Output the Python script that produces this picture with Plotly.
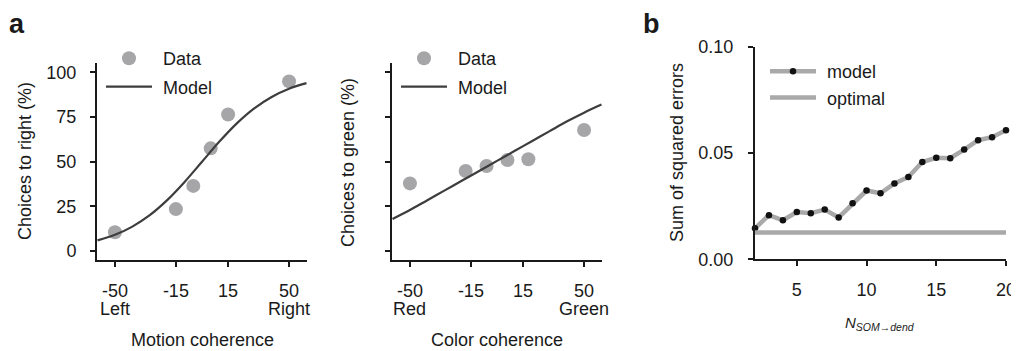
import plotly.graph_objects as go

# ---------------- data ----------------
motion_coh = [-50, -15, -5, 5, 15, 50]
motion_data = [10.5, 23.5, 36.5, 57.5, 76.5, 95.0]
color_coh = [-50, -18, -6, 6, 18, 50]
color_data = [37.9, 44.8, 47.6, 51.0, 51.4, 67.8]

model_x = [-60, -50, -40, -30, -20, -10, 0, 10, 20, 30, 40, 50, 60]
motion_model = [6.0, 9.1, 13.7, 20.1, 28.5, 38.7, 50.0, 61.3, 71.5, 79.9, 86.3, 90.9, 94.0]
color_model = [18.0, 23.0, 28.5, 34.0, 39.5, 45.0, 50.5, 56.0, 61.5, 67.0, 72.5, 77.5, 82.0]

n_som = list(range(2, 21))
sse_model = [0.0146, 0.0208, 0.0184, 0.0223, 0.0217, 0.0234, 0.0197, 0.0264, 0.0324, 0.0311,
             0.0357, 0.0388, 0.0458, 0.0478, 0.0476, 0.0517, 0.0561, 0.0575, 0.0608]
sse_optimal = 0.0126

a_tickvals = [-50, -15, 15, 50]
a_ticktext = ["-50", "-15", "15", "50"]
motion_ends = ["Left", "Right"]
color_ends = ["Red", "Green"]
pct_ticks = [0, 25, 50, 75, 100]
b_xticks = [5, 10, 15, 20]
b_yticks = [0, 0.05, 0.10]
b_yticktext = ["0.00", "0.05", "0.10"]

# ---------------- style ----------------
FONT = "Liberation Sans, Arial, Helvetica, sans-serif"
TXT = "#1a1a1a"
DOT = "#a6a6a9"
DARK = "#3d3d3d"
LIGHT = "#a9a9a9"
W, H = 1019, 351
OFF = 8                     # default body margin of the page
FS = 18
PAD = "\u2004"

def px_x(a, b):
    return [(a - OFF) / W, (b - OFF) / W]

def px_y(top, bottom):
    return [(H - (bottom - OFF)) / H, (H - (top - OFF)) / H]

def fx(x):
    return (x - OFF) / W

def fy(y):
    return (H - (y - OFF)) / H

fig = go.Figure()

# panel a left
fig.add_trace(go.Scatter(x=motion_coh, y=motion_data, mode="markers", name=PAD + "Data",
                         marker=dict(size=14, color=DOT), xaxis="x", yaxis="y",
                         legend="legend", legendgroup="d1", cliponaxis=False))
fig.add_trace(go.Scatter(x=model_x, y=motion_model, mode="lines", name=PAD + "Model",
                         line=dict(color=DARK, width=2.2, shape="spline"), xaxis="x", yaxis="y",
                         legend="legend", legendgroup="m1"))
# panel a middle
fig.add_trace(go.Scatter(x=color_coh, y=color_data, mode="markers", name=PAD + "Data",
                         marker=dict(size=14, color=DOT), xaxis="x2", yaxis="y2",
                         legend="legend2", legendgroup="d2", cliponaxis=False))
fig.add_trace(go.Scatter(x=model_x, y=color_model, mode="lines", name=PAD + "Model",
                         line=dict(color=DARK, width=2.2, shape="spline"), xaxis="x2", yaxis="y2",
                         legend="legend2", legendgroup="m2"))
# panel b
fig.add_trace(go.Scatter(x=n_som, y=sse_model, mode="lines+markers", name=PAD + "model",
                         line=dict(color=LIGHT, width=4.5),
                         marker=dict(size=6.5, color="#111111"), xaxis="x3", yaxis="y3",
                         legend="legend3", cliponaxis=False))
fig.add_trace(go.Scatter(x=[n_som[0], n_som[-1]], y=[sse_optimal, sse_optimal], mode="lines",
                         name=PAD + "optimal", line=dict(color=LIGHT, width=4.5), xaxis="x3",
                         yaxis="y3", legend="legend3", cliponaxis=False))

axis_common = dict(showline=True, linecolor=TXT, linewidth=2, ticks="outside", ticklen=5,
                   tickwidth=1.6, tickcolor=TXT, showgrid=False, zeroline=False,
                   automargin=False, ticklabeloverflow="allow",
                   tickfont=dict(family=FONT, size=FS, color=TXT))

legend_common = dict(font=dict(family=FONT, size=FS, color=TXT), bgcolor="rgba(0,0,0,0)",
                     borderwidth=0, itemwidth=46, xanchor="left", yanchor="top")

fig.update_layout(
    template="none",
    width=W, height=H, margin=dict(l=0, r=0, t=0, b=0, pad=0, autoexpand=False),
    paper_bgcolor="white", plot_bgcolor="white",
    font=dict(family=FONT, size=FS, color=TXT),
    xaxis=dict(domain=px_x(97, 307), range=[-60.3, 60.3], tickvals=a_tickvals,
               ticktext=a_ticktext, anchor="y", ticklabelstandoff=8, **axis_common),
    yaxis=dict(domain=px_y(63, 260), range=[-5, 105.3], tickvals=pct_ticks, anchor="x",
               ticklabelstandoff=10, **axis_common),
    xaxis2=dict(domain=px_x(392, 602), range=[-60.3, 60.3], tickvals=a_tickvals,
                ticktext=a_ticktext, anchor="y2", ticklabelstandoff=8, **axis_common),
    yaxis2=dict(domain=px_y(63, 260), range=[-5, 105.3], tickvals=pct_ticks, anchor="x2",
                showticklabels=False, **axis_common),
    xaxis3=dict(domain=px_x(755, 1006), range=[2, 20], tickvals=b_xticks, anchor="y3",
                ticklabelstandoff=8, **axis_common),
    yaxis3=dict(domain=px_y(47, 259.3), range=[0, 0.1], tickvals=b_yticks, ticktext=b_yticktext,
                anchor="x3", ticklabelstandoff=11, **axis_common),
    legend=dict(x=fx(101), y=fy(40), tracegroupgap=2, **legend_common),
    legend2=dict(x=fx(396), y=fy(40), tracegroupgap=2, **legend_common),
    legend3=dict(x=fx(765), y=fy(53), tracegroupgap=0, **legend_common),
)

ann = [
    dict(text="<b>a</b>", x=fx(8), y=1, size=27, xanchor="left", yanchor="top"),
    dict(text="<b>b</b>", x=fx(642), y=1, size=27, xanchor="left", yanchor="top"),
    dict(text="Motion coherence", x=fx(202), y=fy(340), size=FS, xanchor="center",
         yanchor="middle"),
    dict(text="Color coherence", x=fx(497), y=fy(340), size=FS, xanchor="center",
         yanchor="middle"),
    dict(text="<i>N</i><sub><i>SOM→dend</i></sub>", x=fx(880), y=fy(323), size=15,
         xanchor="center", yanchor="middle"),
]
for a in ann:
    fig.add_annotation(text=a["text"], x=a["x"], y=a["y"], xref="paper", yref="paper",
                       xanchor=a["xanchor"], yanchor=a["yanchor"], showarrow=False,
                       borderpad=0, font=dict(family=FONT, size=a["size"], color=TXT))

# second line of the end tick labels
for xref, ends in [("x", motion_ends), ("x2", color_ends)]:
    for xv, lab in zip([a_tickvals[0], a_tickvals[-1]], ends):
        fig.add_annotation(text=lab, x=xv, xref=xref, y=fy(309), yref="paper",
                           xanchor="center", yanchor="middle", showarrow=False, borderpad=0,
                           font=dict(family=FONT, size=FS, color=TXT))

for txt, x, y in [("Choices to right (%)", 25, 161), ("Choices to green (%)", 348, 163),
                  ("Sum of squared errors", 677, 153)]:
    fig.add_annotation(text=txt, x=fx(x), y=fy(y), xref="paper", yref="paper",
                       textangle=-90, xanchor="center", yanchor="middle", showarrow=False,
                       font=dict(family=FONT, size=FS, color=TXT))

fig.write_html("out.html")
